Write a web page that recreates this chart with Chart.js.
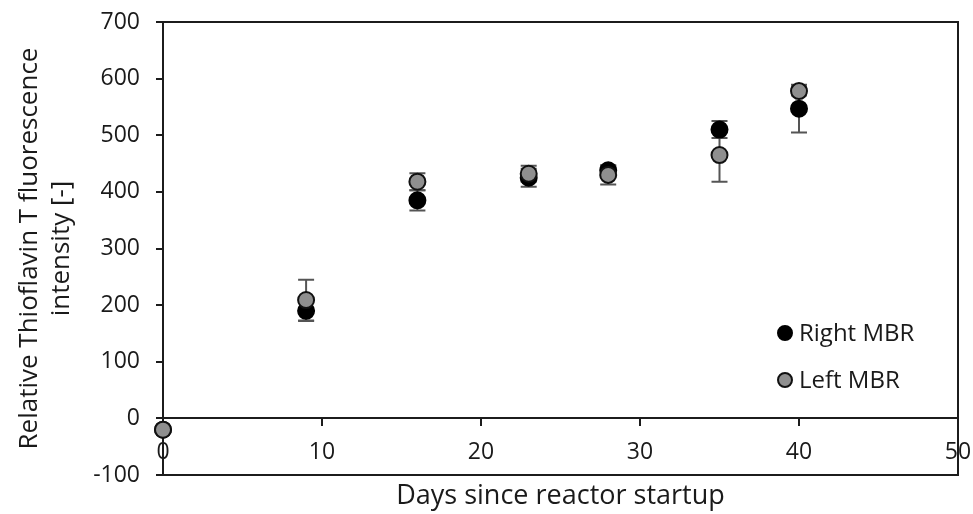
<!DOCTYPE html>
<html>
<head>
<meta charset="utf-8">
<script src="https://cdn.jsdelivr.net/npm/chart.js@4.4.1/dist/chart.umd.min.js"></script>
<style>
  html, body { margin: 0; padding: 0; background: #fff; }
  #wrap { width: 973px; height: 514px; }
</style>
</head>
<body>
<div id="wrap"><canvas id="chart" width="973" height="514"></canvas></div>
<script>
// Dados
const days = [0, 9, 16, 23, 28, 35, 40];
const rightMBR = [-20, 190, 385, 425, 438, 510, 547];
const rightErr = [0, 18, 18, 16, 8, 15, 42];
const leftMBR = [-20, 209, 418, 432, 430, 465, 578];
const leftErr = [0, 36, 15, 14, 17, 47, 8];
const xTicks = [0, 10, 20, 30, 40, 50];
const yTicks = [-100, 0, 100, 200, 300, 400, 500, 600, 700];

const FONT = "'Open Sans', sans-serif";
const AXIS = '#1c1c1c';

function toPoints(xs, ys) {
    return xs.map((x, i) => ({ x: x, y: ys[i] }));
}

// Barras de erro, desenhadas atrás dos marcadores
const errorBars = {
    id: 'errorBars',
    beforeDatasetsDraw(chart) {
        const ctx = chart.ctx;
        const xs = chart.scales.x;
        const ys = chart.scales.y;
        ctx.save();
        ctx.strokeStyle = '#555';
        ctx.lineWidth = 2;
        chart.data.datasets.forEach(ds => {
            ds.data.forEach((p, i) => {
                const e = ds.errors[i];
                if (!e) return;
                const px = xs.getPixelForValue(p.x);
                const top = ys.getPixelForValue(p.y + e);
                const bot = ys.getPixelForValue(p.y - e);
                ctx.beginPath();
                ctx.moveTo(px, top); ctx.lineTo(px, bot);
                ctx.moveTo(px - 8, top); ctx.lineTo(px + 8, top);
                ctx.moveTo(px - 8, bot); ctx.lineTo(px + 8, bot);
                ctx.stroke();
            });
        });
        ctx.restore();
    }
};

// Moldura, título do eixo x e legenda
const frame = {
    id: 'frame',
    afterDraw(chart) {
        const ctx = chart.ctx;
        const a = chart.chartArea;
        ctx.save();
        ctx.strokeStyle = AXIS;
        ctx.lineWidth = 2;
        ctx.beginPath();
        ctx.moveTo(a.left, a.top); ctx.lineTo(a.right, a.top);
        ctx.lineTo(a.right, a.bottom); ctx.lineTo(a.left, a.bottom);
        ctx.stroke();

        ctx.fillStyle = '#1a1a1a';
        ctx.font = '27px ' + FONT;
        ctx.textAlign = 'center';
        ctx.textBaseline = 'middle';
        ctx.fillText('Days since reactor startup', (a.left + a.right) / 2, 496);

        // legenda
        ctx.font = '24px ' + FONT;
        ctx.textAlign = 'left';
        chart.data.datasets.forEach((ds, i) => {
            const lx = a.right - 173;
            const ly = 333 + i * 47;
            ctx.beginPath();
            ctx.arc(lx, ly, 7, 0, Math.PI * 2);
            ctx.fillStyle = ds.backgroundColor;
            ctx.fill();
            ctx.lineWidth = 2;
            ctx.strokeStyle = ds.borderColor;
            ctx.stroke();
            ctx.fillStyle = '#1a1a1a';
            ctx.fillText(ds.label, lx + 14, ly + 1);
        });
        ctx.restore();
    }
};

const chart = new Chart(document.getElementById('chart'), {
    type: 'scatter',
    data: {
        datasets: [{
            label: 'Right MBR',
            data: toPoints(days, rightMBR),
            errors: rightErr,
            backgroundColor: '#000',
            borderColor: '#000',
            borderWidth: 2,
            pointRadius: 8,
            order: 2,
            clip: false
        }, {
            label: 'Left MBR',
            data: toPoints(days, leftMBR),
            errors: leftErr,
            backgroundColor: '#8f8f8f',
            borderColor: '#111',
            borderWidth: 2,
            pointRadius: 8,
            order: 1,
            clip: false
        }]
    },
    options: {
        responsive: false,
        animation: false,
        layout: { padding: { left: 0, right: 15, top: 22, bottom: 39 } },
        plugins: {
            legend: { display: false },
            tooltip: { enabled: false }
        },
        scales: {
            x: {
                type: 'linear',
                position: { y: 0 },
                min: xTicks[0],
                max: xTicks[xTicks.length - 1],
                afterBuildTicks: s => { s.ticks = xTicks.map(v => ({ value: v })); },
                afterFit: s => { s.paddingLeft = 0; s.paddingRight = 0; },
                grid: { drawOnChartArea: false, tickLength: 7, color: AXIS, lineWidth: 2 },
                border: { color: AXIS, width: 2 },
                ticks: { color: '#1a1a1a', font: { family: FONT, size: 23 }, padding: 13, maxRotation: 0 }
            },
            y: {
                type: 'linear',
                min: yTicks[0],
                max: yTicks[yTicks.length - 1],
                afterBuildTicks: s => { s.ticks = yTicks.map(v => ({ value: v })); },
                afterFit: s => { s.width = 163; s.paddingTop = 0; s.paddingBottom = 0; },
                grid: { drawOnChartArea: false, tickLength: 7, color: AXIS, lineWidth: 2 },
                border: { color: AXIS, width: 2 },
                ticks: { color: '#1a1a1a', font: { family: FONT, size: 23 }, padding: 16 },
                title: {
                    display: true,
                    text: ['Relative Thioflavin T fluorescence', 'intensity [-]'],
                    color: '#1a1a1a',
                    font: { family: FONT, size: 26, lineHeight: 1.23 },
                    padding: { top: 14, bottom: 0 }
                }
            }
        }
    },
    plugins: [errorBars, frame]
});
</script>
</body>
</html>
